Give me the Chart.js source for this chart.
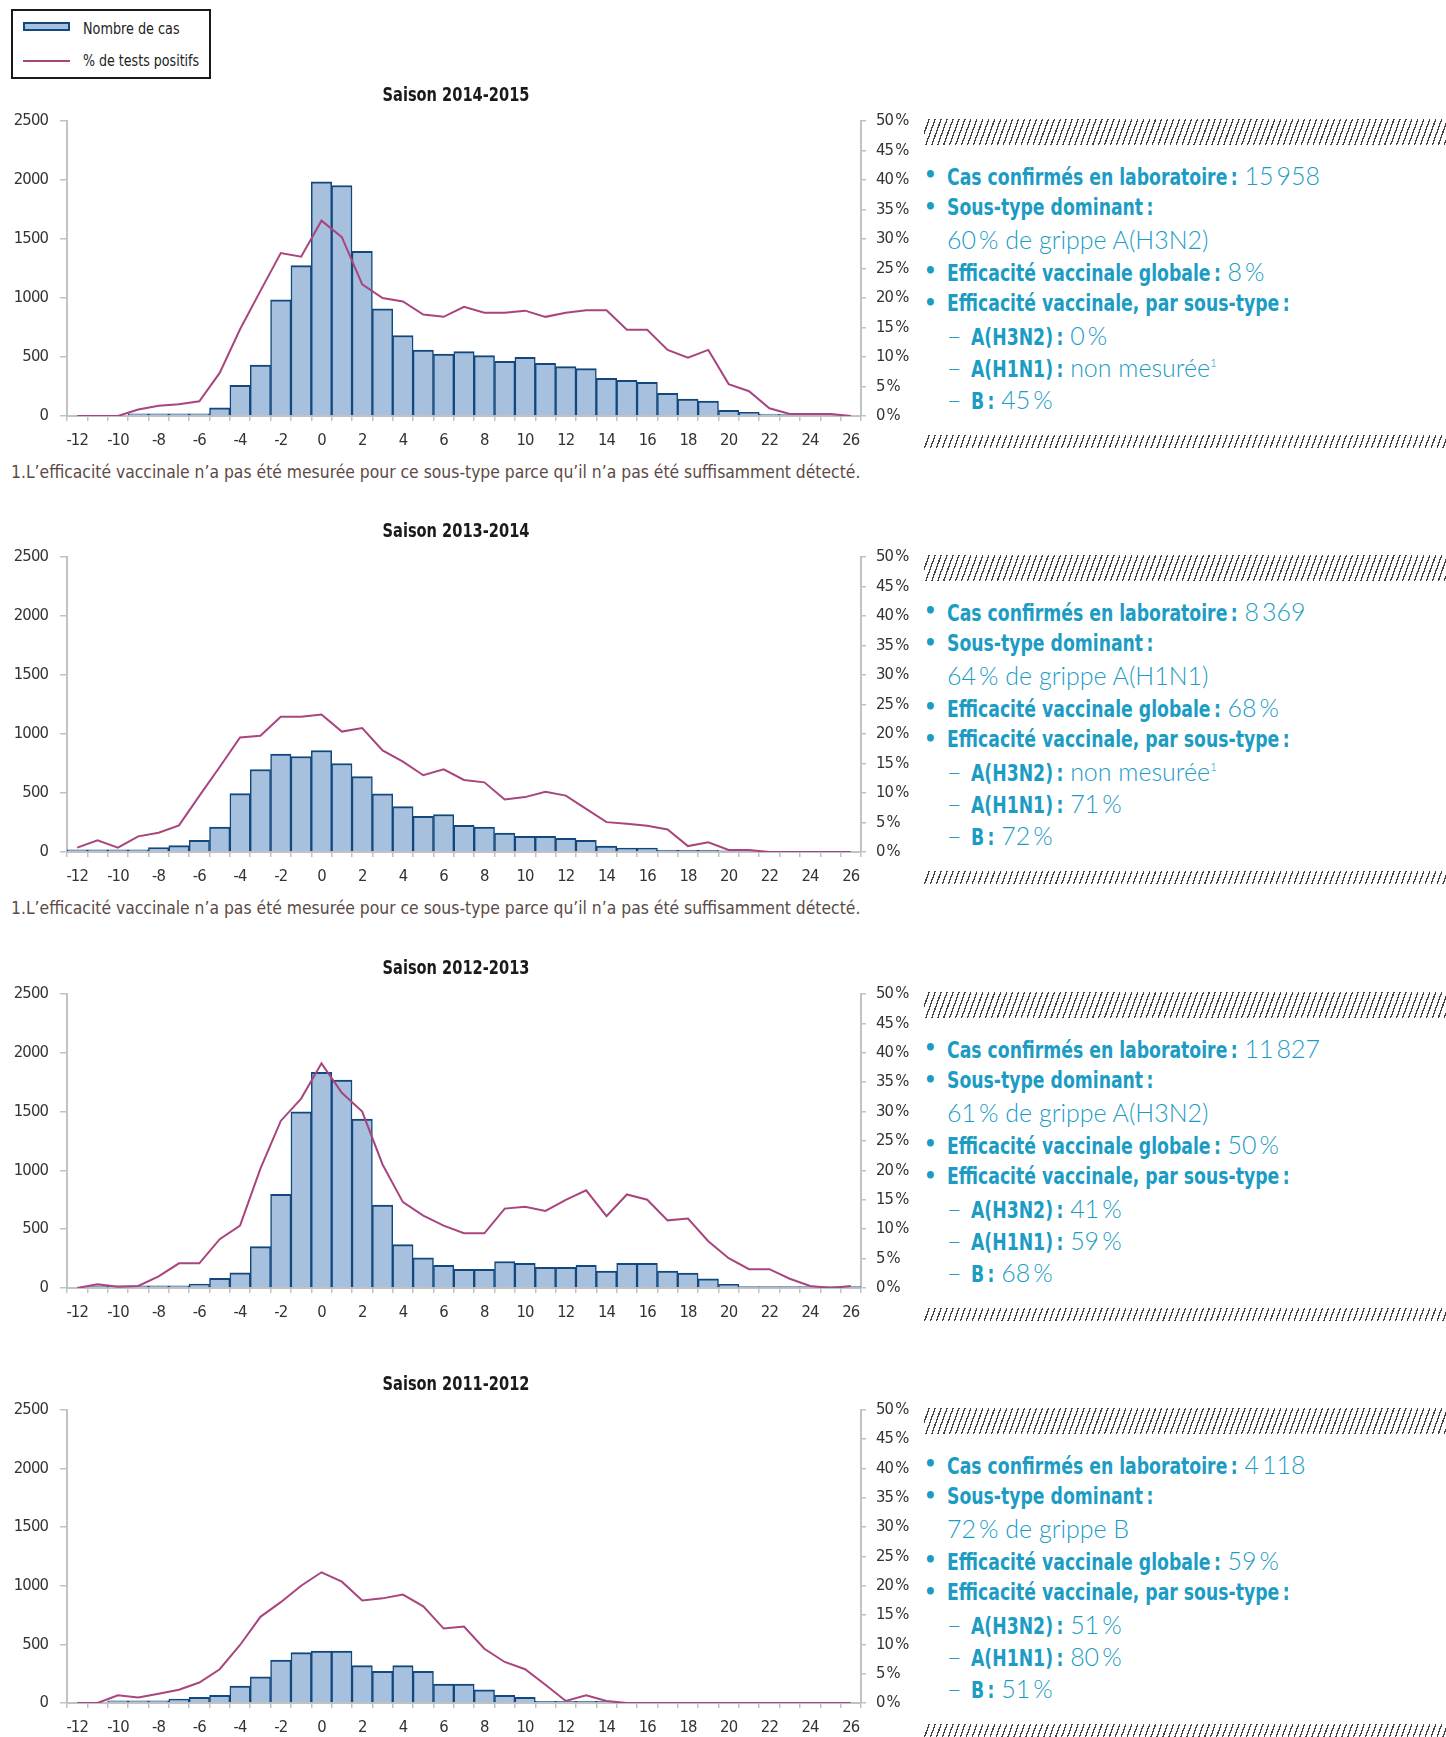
<!DOCTYPE html>
<html lang="fr">
<head>
<meta charset="utf-8">
<script src="https://cdn.jsdelivr.net/npm/chart.js@4.4.1/dist/chart.umd.min.js"></script>
<style>
html,body{margin:0;padding:0;background:#fff;}
:root{--narrow:'Liberation Sans Narrow','Arial Narrow','DejaVu Sans Condensed','DejaVu Sans',sans-serif;}
body{width:1446px;height:1737px;position:relative;overflow:hidden;font-family:var(--narrow);}
canvas{position:absolute;left:0;}
.title{position:absolute;left:256px;width:400px;text-align:center;font-weight:bold;font-size:19px;color:#1a1a1a;line-height:20px;white-space:nowrap;}
.foot{position:absolute;left:11px;font-size:18px;color:#5b4a45;line-height:20px;white-space:nowrap;}
.hatch{position:absolute;left:924px;width:522px;
  background:repeating-linear-gradient(110deg,#fff 0px,#fff 4.3px,#444 4.3px,#444 5.6px);}
.pl{position:absolute;white-space:nowrap;line-height:26px;height:26px;color:#1c9cc4;font-size:23.5px;}
.b{font-family:var(--narrow);font-weight:bold;}
.v{font-family:Lato,'Open Sans',sans-serif;font-weight:300;}
sup{font-size:12px;line-height:0;vertical-align:10px;}
.legend{position:absolute;left:11px;top:9px;width:196px;height:66px;border:2px solid #1a1a1a;}
.legtxt{position:absolute;left:83px;font-size:16px;color:#222;line-height:18px;white-space:nowrap;}
.sq{display:inline-block;}
</style>
</head>
<body>
<div class="legend"></div>
<div style="position:absolute;left:23px;top:22px;width:47px;height:9px;box-sizing:border-box;background:#a6c0de;border:2px solid #12487d;"></div>
<div class="legtxt" style="top:20px;"><span class="sq" data-w="97">Nombre de cas</span></div>
<div style="position:absolute;left:23px;top:60px;width:47px;height:2px;background:#a8457e;"></div>
<div class="legtxt" style="top:52px;"><span class="sq" data-w="116">% de tests positifs</span></div>

<div id="root"></div>

<script>
// ---------- DATA ----------
const weeks = [-12,-11,-10,-9,-8,-7,-6,-5,-4,-3,-2,-1,0,1,2,3,4,5,6,7,8,9,10,11,12,13,14,15,16,17,18,19,20,21,22,23,24,25,26];
const xTickLabels = ['-12','-10','-8','-6','-4','-2','0','2','4','6','8','10','12','14','16','18','20','22','24','26'];
const leftTicks = [0,500,1000,1500,2000,2500];
const rightTicks = [0,5,10,15,20,25,30,35,40,45,50];

const seasonTitles = ['Saison 2014-2015','Saison 2013-2014','Saison 2012-2013','Saison 2011-2012'];

const cases_2014_2015 = [0,0,0,18,18,18,18,70,260,432,985,1274,1984,1953,1395,907,682,559,525,545,511,463,497,446,418,401,320,303,286,191,143,126,48,31,17,12,12,12,0];
const pct_2014_2015   = [0,0,0,1.1,1.75,2.0,2.5,7.3,14.7,21.2,27.6,27.0,33.1,30.3,22.3,20.0,19.4,17.2,16.8,18.5,17.5,17.5,17.85,16.8,17.5,17.9,17.9,14.6,14.6,11.2,9.9,11.2,5.4,4.2,1.3,0.35,0.35,0.35,0];

const cases_2013_2014 = [18,18,18,18,37,54,99,211,495,699,829,809,860,750,638,492,385,303,318,225,211,160,132,132,115,99,51,34,34,15,15,15,10,10,0,0,0,0,0];
const pct_2013_2014   = [0.74,1.97,0.74,2.65,3.27,4.5,9.5,14.4,19.4,19.7,22.9,22.9,23.3,20.4,21.0,17.2,15.3,13.0,14.0,12.2,11.8,8.9,9.3,10.2,9.55,7.3,5.06,4.8,4.45,3.83,1.0,1.64,0.34,0.34,0,0,0,0,0];

const cases_2012_2013 = [0,18,18,18,18,18,34,82,130,352,797,1498,1833,1768,1436,704,369,257,192,158,158,225,209,175,175,192,144,209,209,144,127,79,31,12,12,12,12,12,12];
const pct_2012_2013   = [0,0.62,0.2,0.34,1.97,4.2,4.2,8.3,10.6,20.3,28.4,32.2,38.2,33.2,30.0,21.0,14.6,12.3,10.6,9.3,9.3,13.5,13.8,13.1,15.0,16.6,12.2,15.9,15.0,11.5,11.8,7.95,5.07,3.2,3.2,1.58,0.34,0,0.34];

const cases_2011_2012 = [0,0,18,18,18,34,48,65,144,223,367,429,443,443,319,271,319,271,161,161,113,65,48,15,15,15,15,0,0,0,0,0,0,0,0,0,0,0,0];
const pct_2011_2012   = [0,0,1.3,0.95,1.58,2.26,3.5,5.76,9.9,14.7,17.2,20.0,22.3,20.7,17.5,17.85,18.5,16.5,12.7,13.05,9.26,7.0,5.76,3.1,0.34,1.3,0.34,0,0,0,0,0,0,0,0,0,0,0,0];

// panel texts
const casConfirmes = ['15\u2009958','8\u2009369','11\u2009827','4\u2009118'];
const sousTypeDom  = ['60\u2009% de grippe A(H3N2)','64\u2009% de grippe A(H1N1)','61\u2009% de grippe A(H3N2)','72\u2009% de grippe B'];
const effGlobale   = ['8\u2009%','68\u2009%','50\u2009%','59\u2009%'];
const effH3N2      = ['0\u2009%','non mesurée<sup>1</sup>','41\u2009%','51\u2009%'];
const effH1N1      = ['non mesurée<sup>1</sup>','71\u2009%','59\u2009%','80\u2009%'];
const effB         = ['45\u2009%','72\u2009%','68\u2009%','51\u2009%'];
const footnote = '1.L’efficacité vaccinale n’a pas été mesurée pour ce sous-type parce qu’il n’a pas été suffisamment détecté.';
const hasFootnote = [true,true,false,false];

// ---------- LAYOUT ----------
const plotTops = [119,555,992,1408];
const plotHeights = [297,297,296,295];
const allCases = [cases_2014_2015,cases_2013_2014,cases_2012_2013,cases_2011_2012];
const allPct = [pct_2014_2015,pct_2013_2014,pct_2012_2013,pct_2011_2012];

const NARROW = "'Liberation Sans Narrow','Arial Narrow','DejaVu Sans Condensed','DejaVu Sans',sans-serif";
const AX = '#c2c2c2', TXT = '#333333';
const BAR_FILL = '#a6c0de', BAR_EDGE = '#12487d', LINE = '#a8457e';
Chart.defaults.font.family = NARROW;

const tightText = { id: 'tightText', beforeDraw(chart) { chart.ctx.letterSpacing = '-0.9px'; } };

const root = document.getElementById('root');
function add(html){ root.insertAdjacentHTML('beforeend', html); }

plotTops.forEach((pt, i) => {
  const topPad = 20, xAxisH = 45;
  const h = topPad + plotHeights[i] + xAxisH;
  add(`<canvas id="c${i}" width="912" height="${h}" style="top:${pt-topPad}px;width:912px;height:${h}px"></canvas>`);
  add(`<div class="title" style="top:${pt-35}px"><span class="sq" data-w="147" data-o="50% 50%">${seasonTitles[i]}</span></div>`);
  if (hasFootnote[i]) add(`<div class="foot" style="top:${pt+343}px"><span class="sq" data-w="849">${footnote}</span></div>`);
  add(`<div class="hatch" style="top:${pt}px;height:26px"></div>`);
  add(`<div class="hatch" style="top:${pt+316}px;height:13px"></div>`);
  const lines = [
    [true,false,`<span class="b lab">Cas confirmés en laboratoire\u2009:</span> <span class="v">${casConfirmes[i]}</span>`],
    [true,false,`<span class="b lab">Sous-type dominant\u2009:</span>`],
    [false,false,`<span class="v">${sousTypeDom[i]}</span>`],
    [true,false,`<span class="b lab">Efficacité vaccinale globale\u2009:</span> <span class="v">${effGlobale[i]}</span>`],
    [true,false,`<span class="b lab">Efficacité vaccinale, par sous-type\u2009:</span>`],
    [false,true,`<span class="b lab">A(H3N2)\u2009:</span> <span class="v">${effH3N2[i]}</span>`],
    [false,true,`<span class="b lab">A(H1N1)\u2009:</span> <span class="v">${effH1N1[i]}</span>`],
    [false,true,`<span class="b lab">B\u2009:</span> <span class="v">${effB[i]}</span>`]
  ];
  lines.forEach((ln, k) => {
    const top = pt + 56 + 32*k - 13;
    if (ln[0]) add(`<div class="pl b" style="left:924px;top:${top}px;font-size:22px">•</div>`);
    if (ln[1]) {
      add(`<div class="pl v" style="left:947px;top:${top}px">–</div>`);
      add(`<div class="pl" style="left:971px;top:${top}px">${ln[2]}</div>`);
    } else {
      add(`<div class="pl" style="left:947px;top:${top}px">${ln[2]}</div>`);
    }
  });

  new Chart(document.getElementById('c'+i), {
    type: 'bar',
    plugins: [tightText],
    data: {
      labels: weeks.map(String),
      datasets: [
        { type:'line', label:'% de tests positifs', data: allPct[i], yAxisID:'y1',
          borderColor: LINE, borderWidth: 2, pointRadius: 0, tension: 0, fill: false, order: 0 },
        { type:'bar', label:'Nombre de cas', data: allCases[i], yAxisID:'y',
          backgroundColor: BAR_FILL, borderColor: BAR_EDGE,
          borderWidth: {top:2, left:1.5, right:1.5, bottom:0}, borderSkipped:'start',
          barPercentage: 1, categoryPercentage: 1, order: 1 }
      ]
    },
    options: {
      responsive: false, animation: false, devicePixelRatio: 1,
      layout: { padding: { top: topPad, left: 0, right: 0, bottom: 0 } },
      plugins: { legend: { display: false }, tooltip: { enabled: false }, title: { display: false } },
      scales: {
        x: {
          offset: true,
          grid: { offset: true, drawOnChartArea: false, drawTicks: true, tickLength: 5, color: AX, lineWidth: 1.5 },
          border: { color: AX, width: 2 },
          ticks: { autoSkip: false, maxRotation: 0, minRotation: 0, padding: 10, color: TXT, font: { size: 16.5 },
            callback: (v, idx) => { const l = String(weeks[idx]); return xTickLabels.includes(l) ? l : ''; } },
          afterFit: s => { s.height = xAxisH; }
        },
        y: {
          position: 'left', min: 0, max: 2500,
          afterBuildTicks: s => { s.ticks = leftTicks.map(v => ({ value: v })); },
          grid: { drawOnChartArea: false, drawTicks: true, tickLength: 7, color: AX, lineWidth: 1.5 },
          border: { color: AX, width: 2 },
          ticks: { padding: 12, color: TXT, font: { size: 16.5 }, callback: v => String(v) },
          afterFit: s => { s.width = 67; }
        },
        y1: {
          position: 'right', min: 0, max: 50,
          afterBuildTicks: s => { s.ticks = rightTicks.map(v => ({ value: v })); },
          grid: { drawOnChartArea: false, drawTicks: true, tickLength: 5, color: AX, lineWidth: 1.5 },
          border: { color: AX, width: 2 },
          ticks: { padding: 10, color: TXT, font: { size: 16.5 }, callback: v => v + '\u2009%' },
          afterFit: s => { s.width = 51; }
        }
      }
    }
  });
});

// ---------- text fitting (font substitutes are wider / narrower than the original) ----------
function fitText() {
  const probeV = document.createElement('span');
  probeV.className = 'v'; probeV.style.cssText = 'position:absolute;left:-9999px;top:0;font-size:22px;white-space:nowrap';
  probeV.textContent = sousTypeDom[0];
  document.body.appendChild(probeV);
  const vSize = 22 * 261 / probeV.offsetWidth;
  probeV.remove();
  document.querySelectorAll('.pl .v, .pl.v').forEach(el => { el.style.fontSize = vSize.toFixed(2) + 'px'; });

  const probe = document.createElement('div');
  probe.className = 'pl'; probe.style.cssText = 'left:-9999px;top:0';
  probe.innerHTML = '<span class="b" id="pb1">Sous-type dominant\u2009:</span><br><span class="b" id="pb2">Cas confirmés en laboratoire\u2009:</span>';
  document.body.appendChild(probe);
  const sB = (202 + 295) / (document.getElementById('pb1').offsetWidth + document.getElementById('pb2').offsetWidth);
  probe.remove();
  document.querySelectorAll('.lab').forEach(el => {
    el.style.display = 'inline-block';
    el.style.transformOrigin = '0 50%';
    el.style.transform = `scaleX(${sB})`;
    el.style.marginRight = (-(1 - sB) * el.offsetWidth) + 'px';
  });

  document.querySelectorAll('.sq').forEach(el => {
    const s = (+el.dataset.w) / el.offsetWidth;
    el.style.transformOrigin = el.dataset.o || '0 50%';
    el.style.transform = `scaleX(${s})`;
  });
}
fitText();
if (document.fonts && document.fonts.ready) document.fonts.ready.then(fitText);
</script>
</body>
</html>
